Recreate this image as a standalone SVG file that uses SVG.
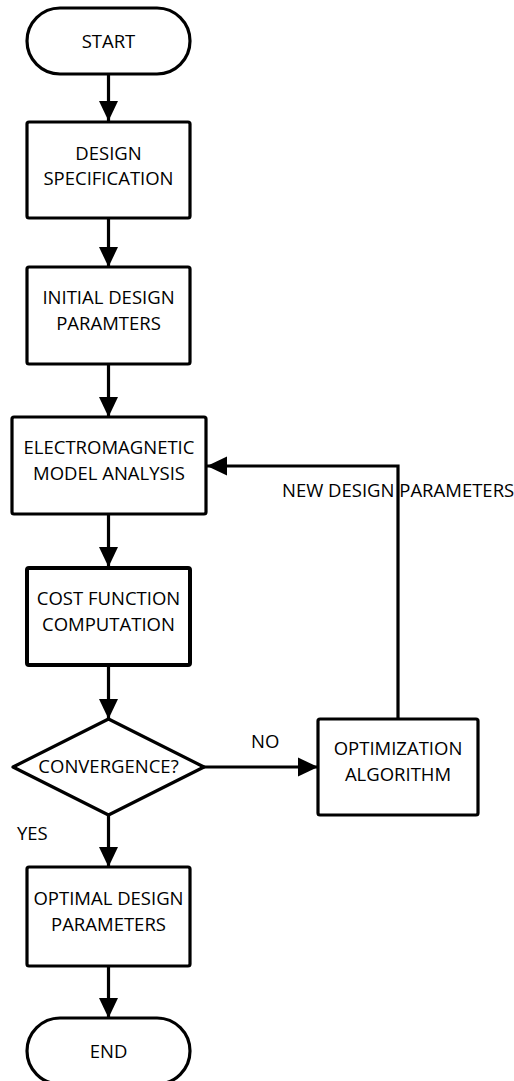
<svg xmlns="http://www.w3.org/2000/svg" width="514" height="1081" viewBox="0 0 514 1081">
<style>
.n{fill:#fff;stroke:#000;stroke-width:3.2;stroke-linejoin:round}
.t{font-family:"Open Sans","Liberation Sans",sans-serif;font-size:18.5px;fill:#000;text-anchor:middle}
.c{fill:none;stroke:#000;stroke-width:3.2}
.l{font-family:"Open Sans","Liberation Sans",sans-serif;font-size:18.5px;fill:#000}
</style>
<defs>
<marker id="ah" markerUnits="userSpaceOnUse" markerWidth="20" markerHeight="20" viewBox="0 0 20 20" refX="20" refY="10" orient="auto">
<path d="M0,0.5 L20,10 L0,19.5 Z" fill="#000"/>
</marker>
</defs>
<g id="connectors">
<line class="c" x1="108.5" y1="74" x2="108.5" y2="121" marker-end="url(#ah)"/>
<line class="c" x1="108.5" y1="218" x2="108.5" y2="267" marker-end="url(#ah)"/>
<line class="c" x1="108.5" y1="364" x2="108.5" y2="417" marker-end="url(#ah)"/>
<line class="c" x1="108.5" y1="514" x2="108.5" y2="567" marker-end="url(#ah)"/>
<line class="c" x1="108.5" y1="665" x2="108.5" y2="719" marker-end="url(#ah)"/>
<line class="c" x1="108.5" y1="815" x2="108.5" y2="867" marker-end="url(#ah)"/>
<line class="c" x1="108.5" y1="966" x2="108.5" y2="1018" marker-end="url(#ah)"/>
<line class="c" x1="204" y1="767" x2="318" y2="767" marker-end="url(#ah)"/>
<polyline class="c" points="398,719 398,466 207,466" marker-end="url(#ah)"/>
<text class="l" x="251" y="748">NO</text>
<text class="l" x="17" y="840">YES</text>
<text class="l" x="282" y="497">NEW DESIGN PARAMETERS</text>
</g>
<g id="start">
<rect class="n" x="27" y="8" width="163" height="66" rx="33" ry="33"/>
<text class="t" x="108.5" y="48">START</text>
</g>
<g id="design-spec">
<rect class="n" x="27" y="122" width="163" height="96" rx="2"/>
<text class="t" x="108.5" y="160">DESIGN</text>
<text class="t" x="108.5" y="185">SPECIFICATION</text>
</g>
<g id="initial-params">
<rect class="n" x="27" y="267" width="163" height="97" rx="2"/>
<text class="t" x="108.5" y="304">INITIAL DESIGN</text>
<text class="t" x="108.5" y="330">PARAMTERS</text>
</g>
<g id="em-analysis">
<rect class="n" x="12" y="417" width="194" height="97" rx="2"/>
<text class="t" x="109" y="454">ELECTROMAGNETIC</text>
<text class="t" x="109" y="480">MODEL ANALYSIS</text>
</g>
<g id="cost-function">
<rect class="n" x="27" y="568" width="163" height="97" rx="2" style="stroke-width:4"/>
<text class="t" x="108.5" y="605">COST FUNCTION</text>
<text class="t" x="108.5" y="631">COMPUTATION</text>
</g>
<g id="convergence">
<polygon class="n" points="108.5,719 204,767 108.5,815 13,767"/>
<text class="t" x="108.5" y="773">CONVERGENCE?</text>
</g>
<g id="optimization">
<rect class="n" x="318" y="719" width="160" height="96" rx="2"/>
<text class="t" x="398" y="755">OPTIMIZATION</text>
<text class="t" x="398" y="781">ALGORITHM</text>
</g>
<g id="optimal-params">
<rect class="n" x="27" y="867" width="163" height="99" rx="2"/>
<text class="t" x="108.5" y="905">OPTIMAL DESIGN</text>
<text class="t" x="108.5" y="931">PARAMETERS</text>
</g>
<g id="end">
<rect class="n" x="27" y="1018" width="163" height="66" rx="33" ry="33"/>
<text class="t" x="108.5" y="1058">END</text>
</g>
</svg>
